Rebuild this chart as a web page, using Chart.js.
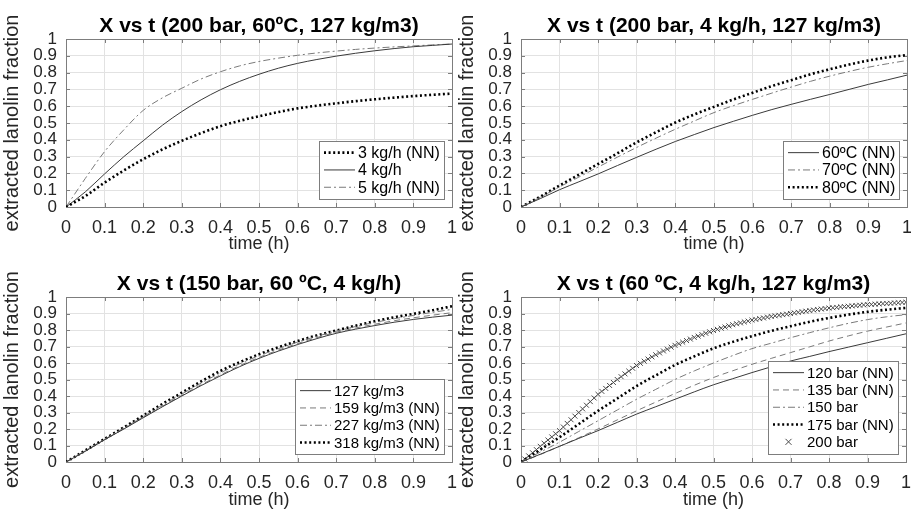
<!DOCTYPE html>
<html>
<head>
<meta charset="utf-8">
<script src="https://cdn.jsdelivr.net/npm/chart.js@4"></script>
<style>
  body { margin: 0; background: #fff; width: 911px; height: 522px; position: relative; overflow: hidden; }
  canvas { position: absolute; }
</style>
</head>
<body>
<canvas id="c1" width="475" height="260" style="left:0;top:0"></canvas>
<canvas id="c3" width="475" height="262" style="left:0;top:260px"></canvas>
<canvas id="c2" width="456" height="260" style="left:455px;top:0"></canvas>
<canvas id="c4" width="456" height="262" style="left:455px;top:260px"></canvas>
<script>
// time grid (h) and axis ticks
const tGrid = [0, 0.05, 0.1, 0.15, 0.2, 0.25, 0.3, 0.35, 0.4, 0.45, 0.5, 0.55, 0.6, 0.65, 0.7, 0.75, 0.8, 0.85, 0.9, 0.95, 1];
const tFine = [0, 0.01, 0.02, 0.03, 0.04, 0.05, 0.06, 0.07, 0.08, 0.09,
  0.1, 0.11, 0.12, 0.13, 0.14, 0.15, 0.16, 0.17, 0.18, 0.19,
  0.2, 0.21, 0.22, 0.23, 0.24, 0.25, 0.26, 0.27, 0.28, 0.29,
  0.3, 0.31, 0.32, 0.33, 0.34, 0.35, 0.36, 0.37, 0.38, 0.39,
  0.4, 0.41, 0.42, 0.43, 0.44, 0.45, 0.46, 0.47, 0.48, 0.49,
  0.5, 0.51, 0.52, 0.53, 0.54, 0.55, 0.56, 0.57, 0.58, 0.59,
  0.6, 0.61, 0.62, 0.63, 0.64, 0.65, 0.66, 0.67, 0.68, 0.69,
  0.7, 0.71, 0.72, 0.73, 0.74, 0.75, 0.76, 0.77, 0.78, 0.79,
  0.8, 0.81, 0.82, 0.83, 0.84, 0.85, 0.86, 0.87, 0.88, 0.89,
  0.9, 0.91, 0.92, 0.93, 0.94, 0.95, 0.96, 0.97, 0.98, 0.99, 1];
const tickValues = [0, 0.1, 0.2, 0.3, 0.4, 0.5, 0.6, 0.7, 0.8, 0.9, 1];
const tickLabels = ['0', '0.1', '0.2', '0.3', '0.4', '0.5', '0.6', '0.7', '0.8', '0.9', '1'];

// (a) flow rate
const flow3 = [0, 0.065, 0.145, 0.218, 0.284, 0.343, 0.394, 0.44, 0.481, 0.513, 0.54, 0.565, 0.587, 0.603, 0.617, 0.63, 0.641, 0.651, 0.66, 0.668, 0.675];
const flow4 = [0, 0.09, 0.197, 0.3, 0.394, 0.487, 0.568, 0.638, 0.698, 0.748, 0.79, 0.826, 0.855, 0.878, 0.898, 0.915, 0.93, 0.943, 0.954, 0.962, 0.97];
const flow5 = [0, 0.17, 0.33, 0.46, 0.575, 0.65, 0.707, 0.762, 0.805, 0.84, 0.866, 0.886, 0.903, 0.917, 0.928, 0.938, 0.946, 0.953, 0.959, 0.965, 0.97];

// (b) temperature
const temp60 = [0, 0.05, 0.103, 0.15, 0.197, 0.247, 0.296, 0.344, 0.39, 0.432, 0.473, 0.51, 0.546, 0.58, 0.611, 0.641, 0.67, 0.7, 0.73, 0.757, 0.785];
const temp70 = [0, 0.058, 0.12, 0.178, 0.238, 0.297, 0.355, 0.41, 0.463, 0.513, 0.562, 0.603, 0.641, 0.678, 0.714, 0.748, 0.779, 0.807, 0.832, 0.853, 0.872];
const temp80 = [0, 0.062, 0.128, 0.192, 0.256, 0.32, 0.385, 0.445, 0.503, 0.552, 0.596, 0.64, 0.68, 0.72, 0.755, 0.79, 0.82, 0.848, 0.872, 0.891, 0.905];

// (c) density
const dens127 = [0, 0.065, 0.135, 0.2, 0.268, 0.335, 0.4, 0.463, 0.522, 0.578, 0.628, 0.672, 0.712, 0.748, 0.78, 0.805, 0.827, 0.847, 0.864, 0.878, 0.89];
const dens159 = [0, 0.066, 0.136, 0.202, 0.27, 0.338, 0.404, 0.468, 0.528, 0.584, 0.634, 0.678, 0.718, 0.754, 0.786, 0.812, 0.835, 0.856, 0.874, 0.89, 0.905];
const dens227 = [0, 0.068, 0.138, 0.206, 0.275, 0.345, 0.412, 0.478, 0.54, 0.595, 0.644, 0.687, 0.727, 0.762, 0.793, 0.821, 0.846, 0.868, 0.888, 0.907, 0.925];
const dens318 = [0, 0.07, 0.14, 0.21, 0.281, 0.352, 0.42, 0.488, 0.552, 0.605, 0.653, 0.695, 0.733, 0.767, 0.797, 0.826, 0.853, 0.877, 0.898, 0.92, 0.944];

// (d) pressure
const pres120 = [0, 0.047, 0.095, 0.143, 0.19, 0.24, 0.29, 0.335, 0.38, 0.425, 0.468, 0.505, 0.542, 0.577, 0.612, 0.64, 0.669, 0.696, 0.723, 0.75, 0.777];
const pres135 = [0, 0.045, 0.095, 0.147, 0.2, 0.255, 0.31, 0.363, 0.415, 0.465, 0.512, 0.553, 0.592, 0.628, 0.663, 0.698, 0.733, 0.764, 0.793, 0.818, 0.843];
const pres150 = [0, 0.06, 0.12, 0.185, 0.25, 0.315, 0.38, 0.44, 0.5, 0.552, 0.6, 0.645, 0.687, 0.72, 0.753, 0.784, 0.813, 0.84, 0.863, 0.88, 0.893];
const pres175 = [0, 0.075, 0.15, 0.23, 0.31, 0.385, 0.46, 0.525, 0.588, 0.64, 0.689, 0.728, 0.763, 0.795, 0.823, 0.85, 0.873, 0.893, 0.91, 0.923, 0.934];
const pres200 = [0, 0.018, 0.037, 0.056, 0.075, 0.095, 0.114, 0.133, 0.152, 0.171,
  0.19, 0.212, 0.234, 0.256, 0.278, 0.3, 0.322, 0.344, 0.366, 0.388,
  0.41, 0.428, 0.446, 0.464, 0.482, 0.5, 0.517, 0.534, 0.551, 0.568,
  0.585, 0.598, 0.611, 0.624, 0.637, 0.65, 0.661, 0.673, 0.684, 0.696,
  0.707, 0.717, 0.726, 0.736, 0.745, 0.755, 0.763, 0.772, 0.78, 0.789,
  0.797, 0.804, 0.811, 0.818, 0.825, 0.832, 0.838, 0.843, 0.849, 0.854,
  0.86, 0.864, 0.869, 0.873, 0.878, 0.882, 0.886, 0.889, 0.893, 0.896,
  0.9, 0.904, 0.907, 0.911, 0.914, 0.918, 0.921, 0.924, 0.927, 0.93,
  0.933, 0.935, 0.937, 0.94, 0.942, 0.944, 0.946, 0.948, 0.95, 0.952,
  0.954, 0.955, 0.957, 0.958, 0.96, 0.961, 0.962, 0.964, 0.965, 0.967, 0.968];

const FONT = "'Liberation Sans', Arial, sans-serif";
const INK = '#262626';
const BOX = '#7d7d7d';

const styles = {
  solid:   { borderColor: '#3a3a3a', borderWidth: 1, borderDash: [] },
  dashed:  { borderColor: '#7a7a7a', borderWidth: 1, borderDash: [6, 4] },
  dashdot: { borderColor: '#7a7a7a', borderWidth: 1, borderDash: [7, 3, 2, 3] },
  dotted:  { borderColor: '#000', borderWidth: 2.6, borderDash: [2, 2.6] },
  cross:   { borderColor: '#4a4a4a', borderWidth: 1, showLine: false, pointStyle: 'crossRot', pointRadius: 3.5 }
};

// matlab-like box with inward ticks
const boxPlugin = {
  id: 'box',
  beforeDatasetsDraw(chart) {
    const { ctx, chartArea: a, scales } = chart;
    ctx.save();
    ctx.strokeStyle = BOX;
    ctx.lineWidth = 1;
    ctx.strokeRect(Math.round(a.left) + 0.5, Math.round(a.top) + 0.5, Math.round(a.right - a.left), Math.round(a.bottom - a.top));
    ctx.beginPath();
    tickValues.forEach(v => {
      const px = Math.round(scales.x.getPixelForValue(v)) + 0.5;
      ctx.moveTo(px, a.bottom); ctx.lineTo(px, a.bottom - 4);
      ctx.moveTo(px, a.top); ctx.lineTo(px, a.top + 4);
      const py = Math.round(scales.y.getPixelForValue(v)) + 0.5;
      ctx.moveTo(a.left, py); ctx.lineTo(a.left + 4, py);
      ctx.moveTo(a.right, py); ctx.lineTo(a.right - 4, py);
    });
    ctx.stroke();
    ctx.restore();
  }
};

// legend box in the lower right corner of the axes
const cornerLegend = {
  id: 'cornerLegend',
  afterDatasetsDraw(chart, args, opts) {
    const { ctx, chartArea: a } = chart;
    const sets = chart.data.datasets;
    const rowH = 17.3, padV = 3, padL = 5, sample = 31, gap = 3, padR = 4;
    ctx.save();
    ctx.font = opts.size + 'px ' + FONT;
    const textW = Math.max(...sets.map(d => ctx.measureText(d.label).width));
    const w = Math.round(padL + sample + gap + textW + padR);
    const h = Math.round(sets.length * rowH + padV * 2);
    const x0 = Math.round(a.right - 8 - w), y0 = Math.round(a.bottom - 8 - h);
    ctx.fillStyle = '#fff';
    ctx.fillRect(x0, y0, w, h);
    ctx.strokeStyle = BOX;
    ctx.lineWidth = 1;
    ctx.strokeRect(x0 + 0.5, y0 + 0.5, w, h);
    sets.forEach((d, i) => {
      const cy = y0 + padV + rowH * (i + 0.5);
      const sx = x0 + padL;
      ctx.strokeStyle = d.borderColor;
      ctx.lineWidth = d.borderWidth;
      if (d.showLine === false) {
        const cx = sx + sample / 2, r = 3;
        ctx.beginPath();
        ctx.moveTo(cx - r, cy - r); ctx.lineTo(cx + r, cy + r);
        ctx.moveTo(cx - r, cy + r); ctx.lineTo(cx + r, cy - r);
        ctx.stroke();
      } else {
        ctx.setLineDash(d.borderDash);
        ctx.beginPath();
        ctx.moveTo(sx, cy); ctx.lineTo(sx + sample, cy);
        ctx.stroke();
        ctx.setLineDash([]);
      }
      ctx.fillStyle = '#000';
      ctx.textBaseline = 'middle';
      ctx.textAlign = 'left';
      ctx.fillText(d.label, sx + sample + gap, cy + 1);
    });
    ctx.restore();
  }
};

function plot(id, title, series, lower, rightPad) {
  const datasets = series.map(s => Object.assign({
    label: s.label,
    data: s.t.map((t, i) => ({ x: t, y: s.v[i] })),
    pointRadius: 0,
    fill: false,
    cubicInterpolationMode: 'monotone'
  }, styles[s.style]));

  new Chart(document.getElementById(id), {
    type: 'line',
    data: { datasets },
    plugins: [boxPlugin, cornerLegend],
    options: {
      responsive: false,
      animation: false,
      devicePixelRatio: 1,
      layout: { padding: { left: 0, right: rightPad, top: 0, bottom: 0 } },
      plugins: {
        legend: { display: false },
        tooltip: { enabled: false },
        cornerLegend: { size: lower ? 15 : 16 },
        title: {
          display: true, fullSize: false, text: title, color: '#000',
          font: { family: FONT, size: 21, weight: 'bold', lineHeight: 1 },
          padding: { top: lower ? 14 : 16, bottom: 2 }
        }
      },
      scales: {
        x: {
          type: 'linear', min: 0, max: 1,
          afterFit: s => { s.height = lower ? 60 : 53; s.paddingLeft = 0; s.paddingRight = 0; },
          afterBuildTicks: s => { s.ticks = tickValues.map(v => ({ value: v })); },
          ticks: {
            callback: (v, i) => tickLabels[i],
            color: INK, padding: 10, maxRotation: 0, autoSkip: false,
            font: { family: FONT, size: 18 }
          },
          grid: { color: '#e2e2e2', drawTicks: false },
          border: { display: false },
          title: {
            display: true, text: 'time (h)', color: INK,
            font: { family: FONT, size: 18 },
            padding: { top: 0, bottom: lower ? 11 : 5 }
          }
        },
        y: {
          type: 'linear', min: 0, max: 1,
          afterFit: s => { s.width = 66; s.paddingTop = 0; s.paddingBottom = 0; },
          afterBuildTicks: s => { s.ticks = tickValues.map(v => ({ value: v })); },
          ticks: {
            callback: (v, i) => tickLabels[i],
            color: INK, padding: 9, autoSkip: false,
            font: { family: FONT, size: 17 }
          },
          grid: { color: '#e2e2e2', drawTicks: false },
          border: { display: false },
          title: {
            display: true, text: 'extracted lanolin fraction', color: INK,
            font: { family: FONT, size: 20 },
            padding: { top: 0, bottom: 0 }
          }
        }
      }
    }
  });
}

plot('c1', 'X vs t (200 bar, 60ºC, 127 kg/m3)', [
  { label: '3 kg/h (NN)', t: tGrid, v: flow3, style: 'dotted' },
  { label: '4 kg/h', t: tGrid, v: flow4, style: 'solid' },
  { label: '5 kg/h (NN)', t: tGrid, v: flow5, style: 'dashdot' }
], false, 23);

plot('c2', 'X vs t (200 bar, 4 kg/h, 127 kg/m3)', [
  { label: '60ºC (NN)', t: tGrid, v: temp60, style: 'solid' },
  { label: '70ºC (NN)', t: tGrid, v: temp70, style: 'dashdot' },
  { label: '80ºC (NN)', t: tGrid, v: temp80, style: 'dotted' }
], false, 4);

plot('c3', 'X vs t (150 bar, 60 ºC, 4 kg/h)', [
  { label: '127 kg/m3', t: tGrid, v: dens127, style: 'solid' },
  { label: '159 kg/m3 (NN)', t: tGrid, v: dens159, style: 'dashed' },
  { label: '227 kg/m3 (NN)', t: tGrid, v: dens227, style: 'dashdot' },
  { label: '318 kg/m3 (NN)', t: tGrid, v: dens318, style: 'dotted' }
], true, 23);

plot('c4', 'X vs t (60 ºC, 4 kg/h, 127 kg/m3)', [
  { label: '120 bar (NN)', t: tGrid, v: pres120, style: 'solid' },
  { label: '135 bar (NN)', t: tGrid, v: pres135, style: 'dashed' },
  { label: '150 bar', t: tGrid, v: pres150, style: 'dashdot' },
  { label: '175 bar (NN)', t: tGrid, v: pres175, style: 'dotted' },
  { label: '200 bar', t: tFine, v: pres200, style: 'cross' }
], true, 4);
</script>
</body>
</html>
